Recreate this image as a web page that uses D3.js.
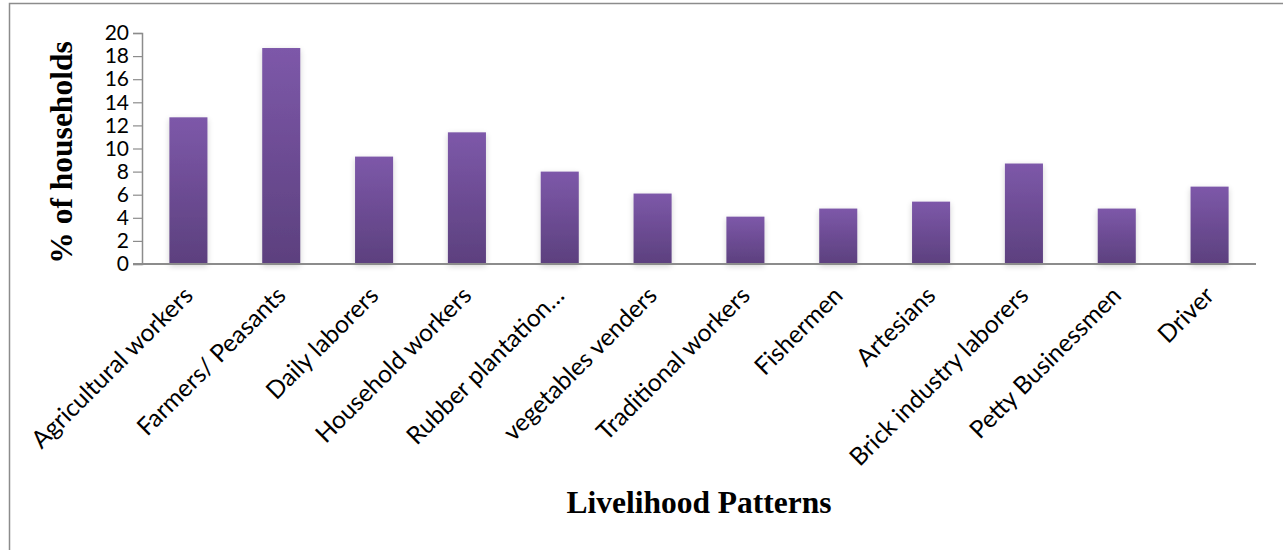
<!DOCTYPE html>
<html><head><meta charset="utf-8">
<script src="https://cdn.jsdelivr.net/npm/d3@7"></script>
<style>body{margin:0;background:#fff}</style>
</head><body>
<script>
const categories = ["Agricultural workers","Farmers/ Peasants","Daily laborers","Household workers","Rubber plantation…","vegetables venders","Traditional workers","Fishermen","Artesians","Brick industry laborers","Petty Businessmen","Driver"];
const values = [12.7, 18.7, 9.3, 11.4, 8.0, 6.1, 4.1, 4.8, 5.4, 8.7, 4.8, 6.7];
const yTicks = [0,2,4,6,8,10,12,14,16,18,20];

const W = 1283, H = 550;
const svg = d3.select("body").append("svg").attr("width", W).attr("height", H);
svg.append("rect").attr("x",9.5).attr("y",3.5).attr("width",1290).attr("height",560)
  .attr("fill","#fff").attr("stroke","#8c8c8c").attr("stroke-width",1.5);

const defs = svg.append("defs");
const g = defs.append("linearGradient").attr("id","bg").attr("x1",0).attr("y1",0).attr("x2",0).attr("y2",1);
g.append("stop").attr("offset","0%").attr("stop-color","#7d58a9");
g.append("stop").attr("offset","100%").attr("stop-color","#5c407e");
const f = defs.append("filter").attr("id","sh").attr("x","-30%").attr("y","-10%").attr("width","160%").attr("height","130%");
f.append("feGaussianBlur").attr("in","SourceAlpha").attr("stdDeviation",3).attr("result","b");
f.append("feOffset").attr("in","b").attr("dx",0).attr("dy",2).attr("result","o");
f.append("feComponentTransfer").attr("in","o").append("feFuncA").attr("type","linear").attr("slope",0.18);
const fm = f.append("feMerge"); fm.append("feMergeNode"); fm.append("feMergeNode").attr("in","SourceGraphic");

const x0 = 142, x1 = 1256, yTop = 33, yBot = 264;
const x = d3.scaleBand().domain(categories).range([x0, x1]).paddingInner(0.59).paddingOuter(0.295);
const y = d3.scaleLinear().domain([0,20]).range([yBot, yTop]);

svg.append("g").selectAll("rect").data(values).join("rect")
  .attr("x",(d,i)=>x(categories[i])).attr("width",x.bandwidth())
  .attr("y",d=>y(d)).attr("height",d=>yBot-y(d))
  .attr("fill","url(#bg)").attr("filter","url(#sh)");

const ya = svg.append("g").attr("transform",`translate(${x0},0)`)
  .call(d3.axisLeft(y).tickValues(yTicks).tickSize(9).tickPadding(4).tickFormat(d3.format("d")));
ya.select(".domain").attr("stroke","#8c8c8c").attr("stroke-width",1.5);
ya.selectAll(".tick line").attr("stroke","#8c8c8c").attr("stroke-width",1.2);
ya.selectAll("text").attr("font-family","Lato, 'Open Sans', sans-serif").attr("font-size",21).attr("fill","#000");

svg.append("line").attr("x1",x0-9).attr("x2",x1).attr("y1",yBot).attr("y2",yBot)
  .attr("stroke","#8c8c8c").attr("stroke-width",1.8);

svg.append("g").selectAll("text").data(categories).join("text")
  .attr("transform",d=>`translate(${x(d)+x.bandwidth()/2+6},${yBot+33}) rotate(-45)`)
  .attr("text-anchor","end")
  .attr("font-family","Lato, 'Open Sans', sans-serif").attr("font-size",24.5).attr("fill","#000")
  .text(d=>d);

svg.append("text").attr("transform",`translate(72,${(yTop+yBot)/2+4}) rotate(-90)`)
  .attr("text-anchor","middle").attr("font-family","'Liberation Serif', 'Times New Roman', serif")
  .attr("font-weight","bold").attr("font-size",31.5).text("% of households");

svg.append("text").attr("x",699).attr("y",513).attr("text-anchor","middle")
  .attr("font-family","'Liberation Serif', 'Times New Roman', serif")
  .attr("font-weight","bold").attr("font-size",31.5).text("Livelihood Patterns");
</script>
</body></html>
